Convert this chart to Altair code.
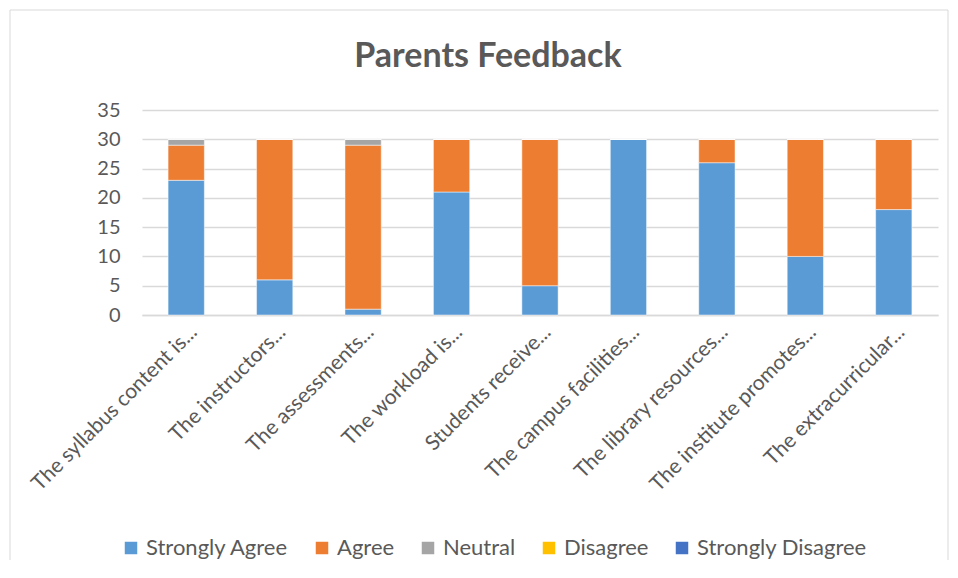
import altair as alt
import pandas as pd

categories = [
    "The syllabus content is...",
    "The instructors...",
    "The assessments...",
    "The workload is...",
    "Students receive...",
    "The campus facilities...",
    "The library resources...",
    "The institute promotes...",
    "The extracurricular...",
]
series = ["Strongly Agree", "Agree", "Neutral", "Disagree", "Strongly Disagree"]
strongly_agree = [23, 6, 1, 21, 5, 30, 26, 10, 18]
agree = [6, 24, 28, 9, 25, 0, 4, 20, 12]
neutral = [1, 0, 1, 0, 0, 0, 0, 0, 0]
disagree = [0, 0, 0, 0, 0, 0, 0, 0, 0]
strongly_disagree = [0, 0, 0, 0, 0, 0, 0, 0, 0]
colors = ["#5B9BD5", "#ED7D31", "#A5A5A5", "#FFC000", "#4472C4"]

values = [strongly_agree, agree, neutral, disagree, strongly_disagree]
rows = []
for si, (s, vals) in enumerate(zip(series, values)):
    for c, v in zip(categories, vals):
        rows.append({"cat": c, "series": s, "value": v, "order": si})
df = pd.DataFrame(rows)

FONT = "Lato"
TXT = "#595959"

bars = alt.Chart(df).mark_bar(stroke="white", strokeWidth=0.8, strokeOpacity=0.6).encode(
    x=alt.X("cat:N", sort=categories, title=None,
            scale=alt.Scale(paddingInner=0.59, paddingOuter=0.295),
            axis=alt.Axis(labelAngle=-45, labelAlign="right", labelBaseline="top",
                          labelFontSize=21, labelColor=TXT, labelFont=FONT,
                          labelLimit=0, labelPadding=6, ticks=False,
                          domainColor="#D9D9D9", domainWidth=1.3)),
    y=alt.Y("value:Q", title=None, stack="zero",
            scale=alt.Scale(domain=[0, 35]),
            axis=alt.Axis(values=[0, 5, 10, 15, 20, 25, 30, 35], labelFontSize=20,
                          labelColor=TXT, labelFont=FONT, labelPadding=22,
                          domain=False, ticks=False, gridColor="#D9D9D9", gridWidth=1.3)),
    color=alt.Color("series:N", sort=series,
                    scale=alt.Scale(domain=series, range=colors),
                    legend=alt.Legend(title=None, orient="none", direction="horizontal",
                                      legendX=-22, legendY=427, symbolType="square",
                                      symbolSize=156, symbolStrokeWidth=0,
                                      labelFontSize=22, labelColor=TXT, labelFont=FONT,
                                      labelLimit=0, labelOffset=4, columnPadding=22)),
    order=alt.Order("order:Q"),
)

border = alt.Chart(pd.DataFrame({"k": [0]})).mark_rect(
    filled=False, stroke="#D9D9D9", strokeWidth=1, clip=False
).encode(x=alt.value(-132), x2=alt.value(806), y=alt.value(-100), y2=alt.value(480))

chart = alt.layer(border, bars).properties(
    width=796, height=205,
    title=alt.TitleParams("Parents Feedback", fontSize=34, fontWeight="bold", color=TXT,
                          font=FONT, anchor="middle", frame="group", dx=-52, offset=-64),
    autosize=alt.AutoSizeParams(type="none"),
    padding={"left": 134, "top": 102, "right": 12, "bottom": 245},
).configure_view(stroke=None)

chart.save("out.html", embed_options={"renderer": "svg", "actions": False})
